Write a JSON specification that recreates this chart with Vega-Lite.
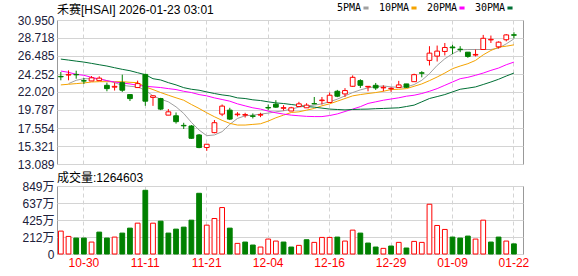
{
  "$schema": "https://vega.github.io/schema/vega-lite/v6.json",
  "padding": {"left": 16, "top": 3, "right": 5, "bottom": 3},
  "background": "white",
  "bounds": "flush",
  "spacing": 22,
  "config": {
    "view": {"stroke": "#999999", "strokeWidth": 1},
    "font": "Liberation Sans, Noto Sans CJK SC",
    "axis": {"labelFont": "Liberation Sans, Noto Sans CJK SC", "labelFontSize": 12, "labelColor": "#20203a", "ticks": false, "domain": false, "gridColor": "#d4d4d4", "labelPadding": 3, "labelOverlap": false, "title": null},
    "title": {"font": "Liberation Sans, Noto Sans CJK SC", "fontSize": 12, "fontWeight": "normal", "color": "#000000", "anchor": "start", "frame": "group"}
  },
  "data": {"values": [
    {"date":"2025-10-27","open":23.95,"high":24.5,"low":23.47,"close":23.9,"volume":2858000,"ma5":null,"ma10":22.9,"ma20":24.62,"ma30":26.1},
    {"date":"2025-10-28","open":24.12,"high":24.7,"low":23.47,"close":24.2,"volume":2195000,"ma5":23.06,"ma10":22.98,"ma20":24.46,"ma30":25.98},
    {"date":"2025-10-29","open":24.2,"high":24.66,"low":23.67,"close":24.15,"volume":1988000,"ma5":23.47,"ma10":23.06,"ma20":24.21,"ma30":25.85},
    {"date":"2025-10-30","open":23.42,"high":23.76,"low":23.02,"close":23.38,"volume":1990000,"ma5":23.67,"ma10":23.14,"ma20":24.09,"ma30":25.73},
    {"date":"2025-10-31","open":23.39,"high":24.0,"low":23.39,"close":23.78,"volume":1490000,"ma5":23.67,"ma10":23.26,"ma20":23.84,"ma30":25.57},
    {"date":"2025-11-03","open":23.43,"high":23.96,"low":23.43,"close":23.74,"volume":2733000,"ma5":23.67,"ma10":23.3,"ma20":23.63,"ma30":25.4},
    {"date":"2025-11-04","open":22.85,"high":23.18,"low":22.11,"close":22.44,"volume":1992000,"ma5":23.43,"ma10":23.3,"ma20":23.43,"ma30":25.24},
    {"date":"2025-11-05","open":22.62,"high":23.18,"low":22.2,"close":22.72,"volume":2112000,"ma5":23.18,"ma10":23.3,"ma20":23.26,"ma30":25.03},
    {"date":"2025-11-06","open":23.18,"high":24.17,"low":22.03,"close":22.24,"volume":2609000,"ma5":22.85,"ma10":23.3,"ma20":23.14,"ma30":24.83},
    {"date":"2025-11-07","open":21.7,"high":21.75,"low":20.9,"close":21.2,"volume":3230000,"ma5":22.73,"ma10":23.22,"ma20":23.02,"ma30":24.66},
    {"date":"2025-11-10","open":22.57,"high":23.43,"low":22.57,"close":23.06,"volume":3851000,"ma5":22.65,"ma10":23.18,"ma20":22.85,"ma30":24.41},
    {"date":"2025-11-11","open":24.2,"high":24.29,"low":20.31,"close":20.88,"volume":7952000,"ma5":22.24,"ma10":22.65,"ma20":22.73,"ma30":24.17},
    {"date":"2025-11-12","open":21.35,"high":21.6,"low":20.3,"close":21.55,"volume":3848000,"ma5":21.54,"ma10":22.32,"ma20":22.65,"ma30":23.67},
    {"date":"2025-11-13","open":21.2,"high":21.3,"low":19.77,"close":19.9,"volume":4100000,"ma5":21.13,"ma10":21.95,"ma20":22.57,"ma30":23.51},
    {"date":"2025-11-14","open":19.15,"high":19.9,"low":19.15,"close":19.56,"volume":2612000,"ma5":20.8,"ma10":21.62,"ma20":22.44,"ma30":23.18},
    {"date":"2025-11-17","open":19.07,"high":19.48,"low":18.1,"close":18.34,"volume":3106000,"ma5":20.18,"ma10":21.3,"ma20":22.32,"ma30":22.9},
    {"date":"2025-11-18","open":17.88,"high":18.2,"low":17.43,"close":17.82,"volume":3355000,"ma5":19.36,"ma10":21.0,"ma20":22.11,"ma30":22.56},
    {"date":"2025-11-19","open":17.8,"high":17.92,"low":16.2,"close":16.28,"volume":4224000,"ma5":18.25,"ma10":20.47,"ma20":21.95,"ma30":22.36},
    {"date":"2025-11-20","open":16.69,"high":16.81,"low":15.05,"close":15.13,"volume":7579000,"ma5":17.3,"ma10":19.98,"ma20":21.7,"ma30":22.24},
    {"date":"2025-11-21","open":15.13,"high":15.56,"low":14.72,"close":15.54,"volume":3603000,"ma5":16.6,"ma10":19.44,"ma20":21.54,"ma30":22.03},
    {"date":"2025-11-24","open":16.98,"high":18.54,"low":16.9,"close":18.21,"volume":4431000,"ma5":16.69,"ma10":18.95,"ma20":21.29,"ma30":21.83},
    {"date":"2025-11-25","open":19.28,"high":20.47,"low":19.03,"close":20.27,"volume":5798000,"ma5":17.1,"ma10":18.5,"ma20":21.09,"ma30":21.66},
    {"date":"2025-11-26","open":19.77,"high":20.06,"low":18.54,"close":18.66,"volume":3230000,"ma5":18.0,"ma10":18.13,"ma20":20.88,"ma30":21.54},
    {"date":"2025-11-28","open":19.2,"high":19.52,"low":18.99,"close":19.28,"volume":1325000,"ma5":18.74,"ma10":17.92,"ma20":20.55,"ma30":21.29},
    {"date":"2025-12-01","open":19.15,"high":19.44,"low":18.85,"close":19.22,"volume":1491000,"ma5":19.07,"ma10":17.92,"ma20":20.3,"ma30":21.21},
    {"date":"2025-12-02","open":19.06,"high":19.36,"low":18.74,"close":19.0,"volume":1118000,"ma5":19.15,"ma10":18.0,"ma20":20.06,"ma30":21.05},
    {"date":"2025-12-03","open":19.15,"high":19.44,"low":18.9,"close":19.22,"volume":870000,"ma5":19.28,"ma10":18.08,"ma20":19.9,"ma30":20.96},
    {"date":"2025-12-04","open":20.1,"high":20.47,"low":19.77,"close":20.04,"volume":1864000,"ma5":19.4,"ma10":18.41,"ma20":19.65,"ma30":20.8},
    {"date":"2025-12-05","open":20.51,"high":21.0,"low":20.06,"close":20.14,"volume":1615000,"ma5":19.56,"ma10":18.82,"ma20":19.44,"ma30":20.67},
    {"date":"2025-12-08","open":20.0,"high":20.39,"low":19.72,"close":20.08,"volume":1491000,"ma5":19.69,"ma10":19.15,"ma20":19.28,"ma30":20.59},
    {"date":"2025-12-09","open":19.66,"high":20.18,"low":19.66,"close":20.06,"volume":870000,"ma5":19.9,"ma10":19.48,"ma20":19.15,"ma30":20.47},
    {"date":"2025-12-10","open":20.22,"high":20.8,"low":20.22,"close":20.55,"volume":1077000,"ma5":20.14,"ma10":19.56,"ma20":19.07,"ma30":20.35},
    {"date":"2025-12-11","open":20.06,"high":20.63,"low":20.06,"close":20.39,"volume":1781000,"ma5":20.3,"ma10":19.77,"ma20":19.0,"ma30":20.22},
    {"date":"2025-12-12","open":20.58,"high":21.4,"low":20.5,"close":20.55,"volume":1450000,"ma5":20.39,"ma10":19.98,"ma20":18.97,"ma30":20.14},
    {"date":"2025-12-15","open":20.95,"high":21.4,"low":20.47,"close":21.02,"volume":2071000,"ma5":20.55,"ma10":20.31,"ma20":18.97,"ma30":20.02},
    {"date":"2025-12-16","open":20.72,"high":21.95,"low":20.72,"close":21.62,"volume":2068000,"ma5":20.8,"ma10":20.55,"ma20":19.1,"ma30":19.9},
    {"date":"2025-12-17","open":22.11,"high":22.28,"low":21.38,"close":21.5,"volume":2112000,"ma5":21.13,"ma10":20.88,"ma20":19.3,"ma30":19.85},
    {"date":"2025-12-18","open":21.78,"high":22.5,"low":21.4,"close":22.2,"volume":1615000,"ma5":21.54,"ma10":21.21,"ma20":19.6,"ma30":19.8},
    {"date":"2025-12-19","open":22.73,"high":24.08,"low":22.64,"close":23.84,"volume":2982000,"ma5":21.95,"ma10":21.54,"ma20":19.9,"ma30":19.85},
    {"date":"2025-12-22","open":23.43,"high":23.6,"low":22.52,"close":22.85,"volume":2609000,"ma5":22.28,"ma10":21.7,"ma20":20.2,"ma30":19.88},
    {"date":"2025-12-23","open":22.65,"high":22.74,"low":22.11,"close":22.72,"volume":1367000,"ma5":22.53,"ma10":21.83,"ma20":20.6,"ma30":19.9},
    {"date":"2025-12-24","open":22.85,"high":23.14,"low":22.28,"close":22.52,"volume":870000,"ma5":22.69,"ma10":21.95,"ma20":20.8,"ma30":19.95},
    {"date":"2025-12-26","open":22.53,"high":22.85,"low":22.11,"close":22.6,"volume":704000,"ma5":22.77,"ma10":22.11,"ma20":21.0,"ma30":19.98},
    {"date":"2025-12-29","open":22.42,"high":22.6,"low":22.05,"close":22.48,"volume":994000,"ma5":22.65,"ma10":22.32,"ma20":21.15,"ma30":20.02},
    {"date":"2025-12-30","open":22.57,"high":23.4,"low":22.57,"close":22.9,"volume":1450000,"ma5":22.61,"ma10":22.36,"ma20":21.3,"ma30":20.06},
    {"date":"2025-12-31","open":23.02,"high":23.02,"low":22.53,"close":22.61,"volume":746000,"ma5":22.65,"ma10":22.44,"ma20":21.5,"ma30":20.22},
    {"date":"2026-01-02","open":23.3,"high":24.29,"low":23.3,"close":24.17,"volume":1574000,"ma5":22.94,"ma10":22.73,"ma20":21.62,"ma30":20.39},
    {"date":"2026-01-05","open":24.4,"high":24.6,"low":23.84,"close":24.35,"volume":1450000,"ma5":23.47,"ma10":23.02,"ma20":21.83,"ma30":20.8},
    {"date":"2026-01-06","open":25.94,"high":27.7,"low":25.31,"close":26.84,"volume":6213000,"ma5":24.29,"ma10":23.43,"ma20":22.11,"ma30":21.21},
    {"date":"2026-01-07","open":26.47,"high":27.78,"low":25.8,"close":27.09,"volume":3562000,"ma5":25.32,"ma10":23.88,"ma20":22.44,"ma30":21.45},
    {"date":"2026-01-08","open":27.05,"high":28.1,"low":26.55,"close":27.54,"volume":3065000,"ma5":26.14,"ma10":24.37,"ma20":22.85,"ma30":21.7},
    {"date":"2026-01-09","open":27.6,"high":27.87,"low":26.71,"close":27.5,"volume":2112000,"ma5":26.76,"ma10":24.91,"ma20":23.26,"ma30":22.03},
    {"date":"2026-01-12","open":27.33,"high":27.7,"low":26.96,"close":27.28,"volume":1988000,"ma5":27.25,"ma10":25.24,"ma20":23.67,"ma30":22.36},
    {"date":"2026-01-13","open":26.96,"high":26.96,"low":26.26,"close":26.43,"volume":2236000,"ma5":27.29,"ma10":25.53,"ma20":23.84,"ma30":22.5},
    {"date":"2026-01-14","open":26.6,"high":27.3,"low":26.43,"close":26.68,"volume":1864000,"ma5":27.29,"ma10":25.94,"ma20":24.09,"ma30":22.65},
    {"date":"2026-01-15","open":27.29,"high":29.1,"low":27.29,"close":28.68,"volume":4224000,"ma5":27.29,"ma10":26.63,"ma20":24.37,"ma30":22.95},
    {"date":"2026-01-16","open":28.48,"high":29.02,"low":28.1,"close":28.55,"volume":1491000,"ma5":27.29,"ma10":27.17,"ma20":24.7,"ma30":23.26},
    {"date":"2026-01-20","open":27.62,"high":28.3,"low":27.42,"close":28.2,"volume":2112000,"ma5":27.46,"ma10":27.58,"ma20":24.99,"ma30":23.6},
    {"date":"2026-01-21","open":28.5,"high":29.2,"low":28.3,"close":29.1,"volume":1615000,"ma5":27.99,"ma10":27.7,"ma20":25.4,"ma30":24.0},
    {"date":"2026-01-22","open":29.12,"high":29.43,"low":28.68,"close":29.06,"volume":1264603,"ma5":28.61,"ma10":27.87,"ma20":25.73,"ma30":24.37}
  ]},
  "vconcat": [
    {
      "width": 466,
      "height": 144,
      "title": {"text": "禾赛[HSAI] 2026-01-23 03:01", "offset": -3},
      "encoding": {
        "x": {"field": "date", "type": "ordinal", "scale": {"paddingInner": 0, "paddingOuter": 0.34, "align": 0},
              "axis": {"values": ["2025-10-30","2025-11-11","2025-11-21","2025-12-04","2025-12-16","2025-12-29","2026-01-09","2026-01-22"], "labels": false, "grid": true, "gridDash": [4, 3]}}
      },
      "layer": [
        {
          "transform": [{"fold": ["ma5", "ma10", "ma20", "ma30"], "as": ["ma", "value"]}],
          "mark": {"type": "line", "strokeWidth": 1},
          "encoding": {
            "y": {"field": "value", "type": "quantitative", "scale": {"domain": [13.089, 30.95], "nice": false, "zero": false},
                  "axis": {"values": [13.089, 15.321, 17.554, 19.787, 22.02, 24.252, 26.485, 28.718, 30.95], "format": ".3f", "grid": true, "labelOverlap": false}},
            "color": {"field": "ma", "type": "nominal",
                      "scale": {"domain": ["ma5", "ma10", "ma20", "ma30"], "range": ["#a0a0a0", "#f5a300", "#ff00ff", "#006f35"]},
                      "legend": {"orient": "none", "legendX": 304, "legendY": -17, "direction": "horizontal", "title": null,
                                 "labelExpr": "replace(datum.label, 'ma', '') + 'PMA'", "labelFont": "DejaVu Sans Mono", "labelFontSize": 10, "labelColor": "#000000",
                                 "symbolType": "stroke", "symbolSize": 26, "symbolStrokeWidth": 3,
                                 "labelAlign": "right", "labelOffset": -10, "columnPadding": 3}}
          }
        },
        {
          "mark": {"type": "rule", "strokeWidth": 1},
          "encoding": {
            "y": {"field": "low", "type": "quantitative",
                  "axis": {"values": [13.089, 15.321, 17.554, 19.787, 22.02, 24.252, 26.485, 28.718, 30.95], "format": ".3f", "grid": true, "labelOverlap": false}},
            "y2": {"field": "high"},
            "color": {"condition": {"test": "datum.close >= datum.open", "value": "#ff0000"}, "value": "#008000"}
          }
        },
        {
          "mark": {"type": "bar", "width": {"band": 0.62}, "strokeWidth": 1},
          "encoding": {
            "y": {"field": "open", "type": "quantitative",
                  "axis": {"values": [13.089, 15.321, 17.554, 19.787, 22.02, 24.252, 26.485, 28.718, 30.95], "format": ".3f", "grid": true, "labelOverlap": false}},
            "y2": {"field": "close"},
            "fill": {"condition": {"test": "datum.close >= datum.open", "value": "#ffffff"}, "value": "#008000"},
            "stroke": {"condition": {"test": "datum.close >= datum.open", "value": "#ff0000"}, "value": "#008000"}
          }
        }
      ]
    },
    {
      "width": 466,
      "height": 68,
      "title": {"text": "成交量:1264603", "offset": -5},
      "transform": [{"window": [{"op": "lag", "field": "close", "as": "prevClose"}], "sort": [{"field": "date"}]}],
      "mark": {"type": "bar", "width": {"band": 0.62}, "strokeWidth": 1},
      "encoding": {
        "x": {"field": "date", "type": "ordinal", "scale": {"paddingInner": 0, "paddingOuter": 0.34, "align": 0},
              "axis": {"values": ["2025-10-30","2025-11-11","2025-11-21","2025-12-04","2025-12-16","2025-12-29","2026-01-09","2026-01-22"],
                       "labelExpr": "substring(datum.label, 5)", "labelColor": "#ff0000", "labelAngle": 0, "labelPadding": 3, "grid": true, "gridDash": [4, 3]}},
        "y": {"field": "volume", "type": "quantitative", "scale": {"domain": [0, 8490000], "nice": false},
              "axis": {"values": [0, 2122500, 4245000, 6367500, 8490000], "labelExpr": "datum.value == 0 ? '0' : format(datum.value / 10000, '.0f') + '万'", "grid": true}},
        "fill": {"condition": {"test": "datum.prevClose == null || datum.close >= datum.prevClose", "value": "#ffffff"}, "value": "#008000"},
        "stroke": {"condition": {"test": "datum.prevClose == null || datum.close >= datum.prevClose", "value": "#ff0000"}, "value": "#008000"}
      }
    }
  ]
}
